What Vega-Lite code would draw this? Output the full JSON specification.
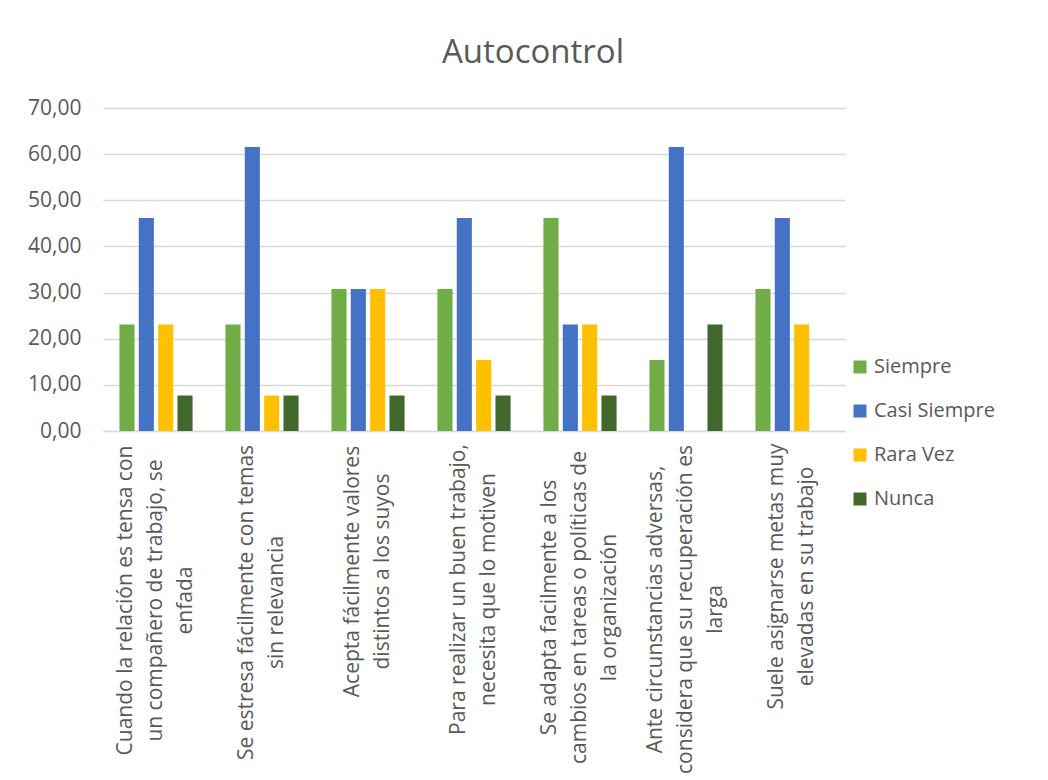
{
  "$schema": "https://vega.github.io/schema/vega-lite/v6.json",
  "width": 742,
  "height": 323,
  "autosize": "none",
  "padding": {"left": 103, "top": 108, "right": 203, "bottom": 349},
  "background": "white",
  "title": {
    "text": "Autocontrol",
    "fontSize": 33,
    "fontWeight": "normal",
    "font": "Open Sans",
    "color": "#595959",
    "anchor": "middle",
    "dx": 59,
    "offset": 27
  },
  "data": {
    "values": [
      {"item": 1, "label": "Cuando la relación es tensa  con|un compañero de trabajo, se|enfada", "serie": "Siempre", "valor": 23.08},
      {"item": 1, "label": "Cuando la relación es tensa  con|un compañero de trabajo, se|enfada", "serie": "Casi Siempre", "valor": 46.15},
      {"item": 1, "label": "Cuando la relación es tensa  con|un compañero de trabajo, se|enfada", "serie": "Rara Vez", "valor": 23.08},
      {"item": 1, "label": "Cuando la relación es tensa  con|un compañero de trabajo, se|enfada", "serie": "Nunca", "valor": 7.69},
      {"item": 2, "label": "Se estresa fácilmente con temas|sin relevancia", "serie": "Siempre", "valor": 23.08},
      {"item": 2, "label": "Se estresa fácilmente con temas|sin relevancia", "serie": "Casi Siempre", "valor": 61.54},
      {"item": 2, "label": "Se estresa fácilmente con temas|sin relevancia", "serie": "Rara Vez", "valor": 7.69},
      {"item": 2, "label": "Se estresa fácilmente con temas|sin relevancia", "serie": "Nunca", "valor": 7.69},
      {"item": 3, "label": "Acepta fácilmente valores|distintos a los suyos", "serie": "Siempre", "valor": 30.77},
      {"item": 3, "label": "Acepta fácilmente valores|distintos a los suyos", "serie": "Casi Siempre", "valor": 30.77},
      {"item": 3, "label": "Acepta fácilmente valores|distintos a los suyos", "serie": "Rara Vez", "valor": 30.77},
      {"item": 3, "label": "Acepta fácilmente valores|distintos a los suyos", "serie": "Nunca", "valor": 7.69},
      {"item": 4, "label": "Para realizar un buen trabajo,|necesita que lo motiven", "serie": "Siempre", "valor": 30.77},
      {"item": 4, "label": "Para realizar un buen trabajo,|necesita que lo motiven", "serie": "Casi Siempre", "valor": 46.15},
      {"item": 4, "label": "Para realizar un buen trabajo,|necesita que lo motiven", "serie": "Rara Vez", "valor": 15.38},
      {"item": 4, "label": "Para realizar un buen trabajo,|necesita que lo motiven", "serie": "Nunca", "valor": 7.69},
      {"item": 5, "label": "Se adapta facilmente a los|cambios en tareas o políticas de|la organización", "serie": "Siempre", "valor": 46.15},
      {"item": 5, "label": "Se adapta facilmente a los|cambios en tareas o políticas de|la organización", "serie": "Casi Siempre", "valor": 23.08},
      {"item": 5, "label": "Se adapta facilmente a los|cambios en tareas o políticas de|la organización", "serie": "Rara Vez", "valor": 23.08},
      {"item": 5, "label": "Se adapta facilmente a los|cambios en tareas o políticas de|la organización", "serie": "Nunca", "valor": 7.69},
      {"item": 6, "label": "Ante circunstancias adversas,|considera que su recuperación es|larga", "serie": "Siempre", "valor": 15.38},
      {"item": 6, "label": "Ante circunstancias adversas,|considera que su recuperación es|larga", "serie": "Casi Siempre", "valor": 61.54},
      {"item": 6, "label": "Ante circunstancias adversas,|considera que su recuperación es|larga", "serie": "Rara Vez", "valor": 0},
      {"item": 6, "label": "Ante circunstancias adversas,|considera que su recuperación es|larga", "serie": "Nunca", "valor": 23.08},
      {"item": 7, "label": "Suele asignarse metas muy|elevadas en su trabajo", "serie": "Siempre", "valor": 30.77},
      {"item": 7, "label": "Suele asignarse metas muy|elevadas en su trabajo", "serie": "Casi Siempre", "valor": 46.15},
      {"item": 7, "label": "Suele asignarse metas muy|elevadas en su trabajo", "serie": "Rara Vez", "valor": 23.08},
      {"item": 7, "label": "Suele asignarse metas muy|elevadas en su trabajo", "serie": "Nunca", "valor": 0}
    ]
  },
  "mark": {"type": "bar"},
  "encoding": {
    "x": {
      "field": "label",
      "type": "nominal",
      "sort": null,
      "scale": {"paddingInner": 0.27, "paddingOuter": 0.135},
      "axis": {
        "title": null,
        "labelExpr": "split(datum.label, '|')",
        "labelAngle": -90,
        "labelAlign": "center",
        "labelBaseline": "middle",
        "labelPadding": {
          "condition": [
            {"test": "indexof(datum.value, 'Cuando') == 0", "value": 169},
            {"test": "indexof(datum.value, 'Se estresa') == 0", "value": 171},
            {"test": "indexof(datum.value, 'Acepta') == 0", "value": 140},
            {"test": "indexof(datum.value, 'Para realizar') == 0", "value": 158},
            {"test": "indexof(datum.value, 'Se adapta') == 0", "value": 176},
            {"test": "indexof(datum.value, 'Ante') == 0", "value": 178}
          ],
          "value": 145
        },
        "labelOffset": {
          "condition": {"test": "length(split(datum.value, '|')) == 3", "value": -30},
          "value": -15
        },
        "labelFont": "Open Sans",
        "labelFontSize": 21,
        "labelLineHeight": 30,
        "labelColor": "#595959",
        "labelLimit": 400,
        "labelOverlap": false,
        "ticks": false,
        "domainColor": "#D9D9D9",
        "domainWidth": 1.3
      }
    },
    "xOffset": {
      "field": "serie",
      "type": "nominal",
      "sort": ["Siempre", "Casi Siempre", "Rara Vez", "Nunca"],
      "scale": {"paddingInner": 0.22, "paddingOuter": 0.11}
    },
    "y": {
      "field": "valor",
      "type": "quantitative",
      "scale": {"domain": [0, 70], "nice": false},
      "axis": {
        "title": null,
        "values": [0, 10, 20, 30, 40, 50, 60, 70],
        "labelExpr": "replace(format(datum.value, '.2f'), '.', ',')",
        "labelFont": "Open Sans",
        "labelFontSize": 21,
        "labelColor": "#595959",
        "labelPadding": 22,
        "ticks": false,
        "domain": false,
        "gridColor": "#D9D9D9",
        "gridWidth": 1.3
      }
    },
    "color": {
      "field": "serie",
      "type": "nominal",
      "sort": ["Siempre", "Casi Siempre", "Rara Vez", "Nunca"],
      "scale": {
        "domain": ["Siempre", "Casi Siempre", "Rara Vez", "Nunca"],
        "range": ["#70AD47", "#4472C4", "#FFC000", "#43682B"]
      },
      "legend": {
        "title": null,
        "orient": "none",
        "legendX": 747,
        "legendY": 249,
        "symbolType": "square",
        "symbolSize": 169,
        "symbolStrokeWidth": 0,
        "labelFont": "Open Sans",
        "labelFontSize": 20,
        "labelColor": "#595959",
        "labelOffset": 4,
        "rowPadding": 24,
        "labelLimit": 200
      }
    }
  },
  "config": {
    "view": {"stroke": null}
  }
}
